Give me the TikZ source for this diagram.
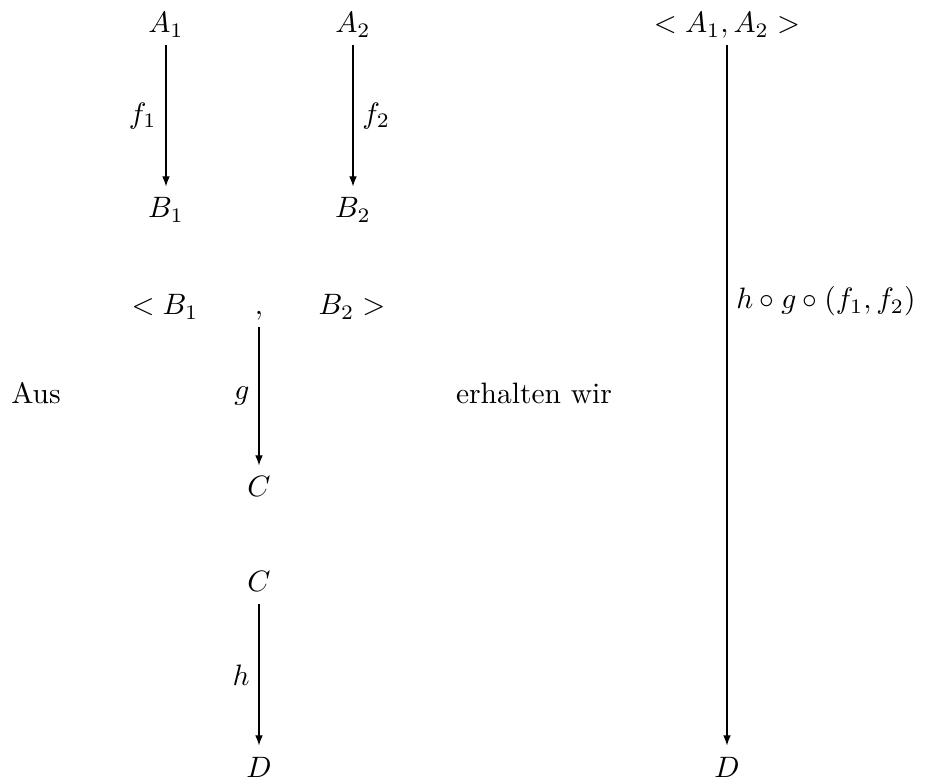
\documentclass[tikz,border=0pt]{standalone}
\usetikzlibrary{arrows.meta}
\begin{document}
\begin{tikzpicture}[x=0.339pt,y=-0.339pt,
  obj/.style={anchor=base,text height=8.5pt,text depth=2pt,inner sep=2pt},
  txt/.style={anchor=base,inner sep=0pt},
  arr/.style={-{Latex[length=3.4pt,width=2.6pt]},line width=0.4pt},
  lbl/.style={inner sep=3pt}]
\useasboundingbox (0,0) rectangle (925,782);
% first diagram
\node[obj] (A1) at (166,33) {$A_1$};
\node[obj] (A2) at (353,33) {$A_2$};
\node[obj] (B1) at (166,218) {$B_1$};
\node[obj] (B2) at (353,218) {$B_2$};
\draw[arr] (A1.south) -- node[lbl,left] {$f_1$} (B1.north);
\draw[arr] (A2.south) -- node[lbl,right] {$f_2$} (B2.north);
% second diagram
\node[obj] (LB1) at (165,315) {$<B_1$};
\node[obj] (comma) at (259,315) {$,$};
\node[obj] (RB2) at (352,315) {$B_2>$};
\node[obj] (C1) at (259,497) {$C$};
\draw[arr] (comma.south) -- node[lbl,left] {$g$} (C1.north);
% third diagram
\node[obj] (C2) at (259,592) {$C$};
\node[obj] (D1) at (259,777) {$D$};
\draw[arr] (C2.south) -- node[lbl,left] {$h$} (D1.north);
% texts
\node[txt] (aus) at (36,404) {Aus};
\node[txt] (erh) at (534,404) {erhalten wir};
% result
\node[obj] (A12) at (727,33) {$<A_1,A_2>$};
\node[obj] (D2) at (727,777) {$D$};
\draw[arr] (A12.south) -- node[lbl,right,pos=0.366] {$h\circ g\circ(f_1,f_2)$} (D2.north);
\end{tikzpicture}
\end{document}
